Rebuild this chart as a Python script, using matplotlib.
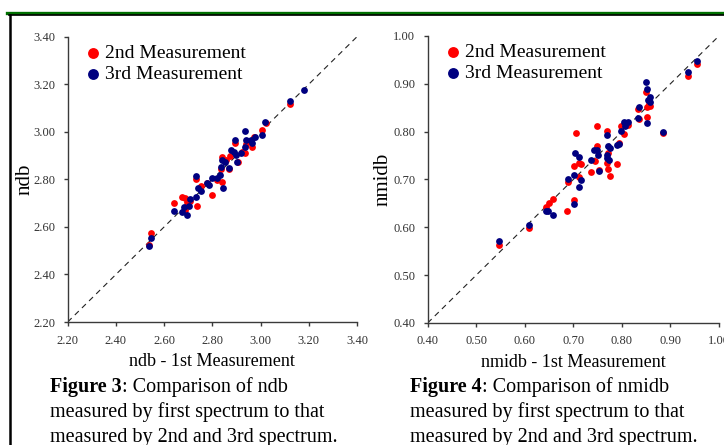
import numpy as np
import matplotlib
matplotlib.use("Agg")
import matplotlib.pyplot as plt
from matplotlib.lines import Line2D

plt.rcParams['font.family'] = ['Liberation Serif', 'DejaVu Serif']

# ndb (figure 3)
ndb_x2 = [2.538, 2.545, 2.642, 2.675, 2.687, 2.694, 2.708, 2.687, 2.737, 2.733,
          2.754, 2.799, 2.779, 2.820, 2.842, 2.834, 2.838, 2.855, 2.867, 2.875,
          2.896, 2.905, 2.936, 2.939, 2.964, 2.974, 3.007, 3.021, 3.122, 2.925]
ndb_y2 = [2.525, 2.574, 2.701, 2.727, 2.721, 2.703, 2.707, 2.672, 2.686, 2.801,
          2.771, 2.736, 2.784, 2.797, 2.787, 2.844, 2.892, 2.882, 2.844, 2.899,
          2.953, 2.875, 2.909, 2.948, 2.935, 2.977, 3.008, 3.039, 3.117, 2.915]
ndb_x3 = [2.536, 2.545, 2.642, 2.675, 2.694, 2.684, 2.705, 2.708, 2.734, 2.733,
          2.739, 2.754, 2.779, 2.788, 2.799, 2.821, 2.831, 2.835, 2.840, 2.844,
          2.853, 2.867, 2.877, 2.888, 2.896, 2.899, 2.902, 2.918, 2.935, 2.935,
          2.938, 2.960, 2.964, 2.978, 3.007, 3.019, 3.122, 3.179]
ndb_y3 = [2.518, 2.553, 2.669, 2.661, 2.651, 2.682, 2.689, 2.717, 2.727, 2.815,
          2.763, 2.753, 2.784, 2.776, 2.806, 2.806, 2.819, 2.854, 2.881, 2.764,
          2.874, 2.848, 2.924, 2.913, 2.966, 2.903, 2.875, 2.910, 2.935, 3.005,
          2.966, 2.966, 2.952, 2.977, 2.987, 3.043, 3.131, 3.175]

# nmidb (figure 4)
nmidb_x2 = [0.547, 0.608, 0.644, 0.650, 0.658, 0.688, 0.690, 0.702, 0.702, 0.705,
            0.711, 0.711, 0.716, 0.736, 0.744, 0.749, 0.749, 0.752, 0.769, 0.770,
            0.772, 0.772, 0.775, 0.790, 0.794, 0.798, 0.804, 0.813, 0.833, 0.836,
            0.850, 0.852, 0.852, 0.856, 0.859, 0.885, 0.936, 0.954]
nmidb_y2 = [0.563, 0.598, 0.642, 0.651, 0.659, 0.635, 0.694, 0.657, 0.728, 0.798,
            0.706, 0.734, 0.732, 0.715, 0.738, 0.770, 0.811, 0.720, 0.801, 0.735,
            0.756, 0.722, 0.708, 0.732, 0.776, 0.811, 0.795, 0.814, 0.847, 0.827,
            0.882, 0.830, 0.851, 0.858, 0.854, 0.798, 0.916, 0.941]
nmidb_x3 = [0.547, 0.608, 0.644, 0.648, 0.658, 0.689, 0.702, 0.704, 0.702, 0.711,
            0.711, 0.715, 0.736, 0.743, 0.748, 0.751, 0.752, 0.769, 0.770, 0.770,
            0.772, 0.773, 0.775, 0.790, 0.794, 0.798, 0.804, 0.806, 0.813, 0.833,
            0.835, 0.850, 0.852, 0.852, 0.853, 0.857, 0.859, 0.885, 0.936, 0.954]
nmidb_y3 = [0.572, 0.605, 0.635, 0.635, 0.625, 0.701, 0.649, 0.756, 0.709, 0.747,
            0.685, 0.699, 0.741, 0.762, 0.762, 0.751, 0.717, 0.792, 0.751, 0.744,
            0.769, 0.741, 0.765, 0.772, 0.774, 0.801, 0.820, 0.812, 0.821, 0.829,
            0.851, 0.904, 0.889, 0.818, 0.866, 0.872, 0.861, 0.800, 0.925, 0.948]

ndb_ticks = [2.20, 2.40, 2.60, 2.80, 3.00, 3.20, 3.40]
nmidb_ticks = [0.40, 0.50, 0.60, 0.70, 0.80, 0.90, 1.00]

RED = '#ff0000'
NAVY = '#000080'
AX_COL = '#3a3a3a'

fig = plt.figure(figsize=(7.24, 4.45), dpi=100)


def panel(rect, x2, y2, x3, y3, ticks, ylab, xlab, ylab_x):
    ax = fig.add_axes(rect)
    lo, hi = ticks[0], ticks[-1]
    ax.plot([lo, hi], [lo, hi], color='#222222', lw=0.8, ls=(0, (5, 4)), zorder=1)
    ax.scatter(x2, y2, s=24, color=RED, lw=0, zorder=2, label='2nd Measurement')
    ax.scatter(x3, y3, s=24, color=NAVY, lw=0, zorder=3, label='3rd Measurement')
    ax.set_xlim(lo, hi)
    ax.set_ylim(lo, hi)
    ax.set_xticks(ticks)
    ax.set_yticks(ticks)
    ax.set_xticklabels(['%.2f' % t for t in ticks])
    ax.set_yticklabels(['%.2f' % t for t in ticks])
    for s in ['top', 'right']:
        ax.spines[s].set_visible(False)
    for s in ['left', 'bottom']:
        ax.spines[s].set_color(AX_COL)
        ax.spines[s].set_linewidth(1.0)
    ax.tick_params(direction='out', length=3, width=1.0, color=AX_COL,
                   labelsize=9, labelcolor='#333333', pad=6)
    ax.set_ylabel(ylab, fontsize=15)
    ax.yaxis.set_label_coords(ylab_x, 0.5)
    ax.set_xlabel(xlab, fontsize=13, labelpad=5)
    ax.legend(loc='upper left', bbox_to_anchor=(0.02, 1.0), frameon=False,
              fontsize=14, markerscale=1.6, handletextpad=0.0,
              labelspacing=0.15, borderaxespad=0, handlelength=1.2)
    return ax


panel([0.0935, 0.2764, 0.3996, 0.6411], ndb_x2, ndb_y2, ndb_x3, ndb_y3,
      ndb_ticks, 'ndb', 'ndb - 1st Measurement', -0.113)
panel([0.5907, 0.2742, 0.4023, 0.645], nmidb_x2, nmidb_y2, nmidb_x3, nmidb_y3,
      nmidb_ticks, 'nmidb', 'nmidb - 1st Measurement', -0.119)

# page decorations
W, H = 724.0, 445.0
fig.add_artist(Line2D([7 / W, 1], [1 - 12.5 / H, 1 - 12.5 / H], color='#007000', lw=2.4))
fig.add_artist(Line2D([9 / W, 1], [1 - 14.8 / H, 1 - 14.8 / H], color='black', lw=1.2))
fig.add_artist(Line2D([10 / W, 10 / W], [0, 1 - 14.8 / H], color='black', lw=1.8))
fig.text(123 / W, 1 + 6 / H, 'applied to the data (Eq 2) and by', fontsize=14, va='baseline')

captions = [
    (50, 'Figure 3', ': Comparison of ndb'),
    (410, 'Figure 4', ': Comparison of nmidb'),
]
for x0, bold, rest in captions:
    t = fig.text(x0 / W, 1 - 392 / H, bold, fontsize=14.5, fontweight='bold', va='baseline')
    fig.canvas.draw()
    bb = t.get_window_extent()
    fig.text(bb.x1 / W, 1 - 392 / H, rest, fontsize=14.5, va='baseline')
    fig.text(x0 / W, 1 - 417 / H, 'measured by first spectrum to that', fontsize=14.5, va='baseline')
    fig.text(x0 / W, 1 - 442 / H, 'measured by 2nd and 3rd spectrum.', fontsize=14.5, va='baseline')

fig.savefig('out.png', dpi=100)
